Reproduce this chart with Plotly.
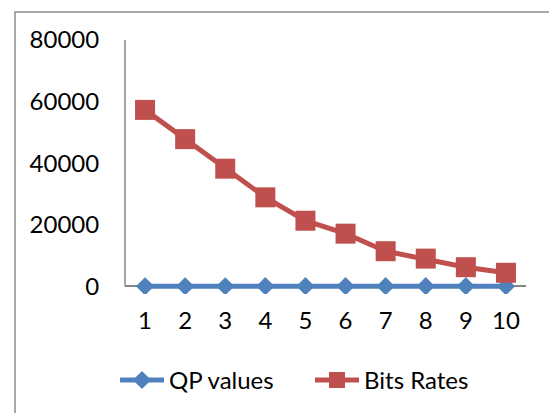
import plotly.graph_objects as go

categories = [1, 2, 3, 4, 5, 6, 7, 8, 9, 10]
qp_values = [20, 22, 24, 26, 28, 30, 32, 34, 36, 38]
bit_rates = [57300, 47800, 38200, 28900, 21300, 17100, 11400, 9000, 6200, 4400]
y_ticks = [0, 20000, 40000, 60000, 80000]

W, H = 549, 413
Y_MIN, Y_MAX = -2500, 80000
px_per_unit = 246 / 80000           # 0 at y=286px, 80000 at y=40px
L, R, T = 125, 23, 40
ph = (Y_MAX - Y_MIN) * px_per_unit
B = H - T - ph
pw = W - L - R
below_zero = -Y_MIN * px_per_unit

def px_x(p):
    return (p - L) / pw

def px_y(p):
    return (T + ph - p) / ph

fig = go.Figure()
fig.add_trace(go.Scatter(x=categories, y=qp_values, name="QP values", mode="lines+markers",
                         line=dict(color="#4F81BD", width=5),
                         marker=dict(symbol="diamond", size=14, color="#4F81BD")))
fig.add_trace(go.Scatter(x=categories, y=bit_rates, name="Bits Rates", mode="lines+markers",
                         line=dict(color="#C0504D", width=5),
                         marker=dict(symbol="square", size=20, color="#C0504D")))

fig.update_layout(
    width=W, height=H,
    margin=dict(l=L, r=R, t=T, b=B, autoexpand=False),
    paper_bgcolor="white", plot_bgcolor="white",
    font=dict(family="Lato, Carlito, Calibri, sans-serif", size=24, color="black"),
    showlegend=True,
    legend=dict(orientation="h", x=px_x(115), y=px_y(380), xanchor="left", yanchor="middle",
                font=dict(size=24), itemwidth=44, entrywidth=136, tracegroupgap=0),
    xaxis=dict(range=[0.5, 10.5], tickvals=categories, ticktext=[str(c) for c in categories],
               showgrid=False, zeroline=False, showline=False,
               ticks="outside", ticklen=max(1, 20 - below_zero - 7), tickcolor="rgba(0,0,0,0)"),
    yaxis=dict(range=[Y_MIN, Y_MAX], tickvals=y_ticks, ticktext=[str(v) for v in y_ticks],
               showgrid=False, zeroline=True, zerolinecolor="#868686", zerolinewidth=1.5,
               showline=False, ticks="outside", ticklen=20, tickcolor="rgba(0,0,0,0)"),
    shapes=[
        dict(type="rect", xref="paper", yref="paper",
             x0=px_x(15), x1=px_x(600), y0=px_y(480), y1=px_y(12),
             line=dict(color="#8C8C8C", width=1.5), fillcolor="rgba(0,0,0,0)", layer="below"),
        dict(type="line", xref="paper", yref="y", x0=0, x1=0, y0=0, y1=Y_MAX,
             line=dict(color="#868686", width=1.5), layer="below"),
    ],
)

fig.write_html("out.html", config={"displayModeBar": False},
               post_script="document.body.style.margin='0';document.body.style.padding='0';")
